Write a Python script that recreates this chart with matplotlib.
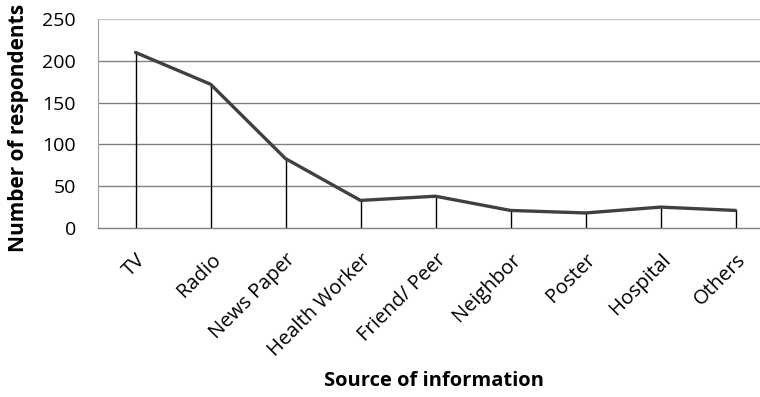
import matplotlib.pyplot as plt
import matplotlib.transforms as mtransforms

categories = ["TV", "Radio", "News Paper", "Health Worker", "Friend/ Peer",
              "Neighbor", "Poster", "Hospital", "Others"]
respondents = [210, 172, 83, 33, 38, 21, 18, 25, 21]
y_ticks = [0, 50, 100, 150, 200, 250]

plt.rcParams["font.family"] = ["Open Sans", "DejaVu Sans"]

fig = plt.figure(figsize=(7.6, 3.97), dpi=100)
ax = fig.add_axes([98 / 760, 1 - 228 / 397, 675 / 760, 209 / 397])

x = list(range(len(categories)))
ax.vlines(x, 0, respondents, color="black", linewidth=1.0, zorder=2)
ax.plot(x, respondents, color="#404040", linewidth=2.4, solid_joinstyle="round",
        solid_capstyle="round", zorder=3)

ax.set_xlim(-0.5, len(categories) - 0.5)
ax.set_ylim(0, 250)
ax.set_yticks(y_ticks)
ax.set_yticklabels([str(v) for v in y_ticks], fontsize=14)
for v in y_ticks[1:]:
    ax.axhline(v, color="#808080" if v < 250 else "#c8c8c8", linewidth=1.0, zorder=1)

# category labels drawn by hand so they can sit below the axis at an offset
ax.set_xticks(x)
ax.set_xticklabels([])
label_offset = mtransforms.ScaledTranslation(0.0, -0.22, fig.dpi_scale_trans)
for pos, name in zip(x, categories):
    ax.text(pos, 0, name, rotation=45, ha="right", va="top", rotation_mode="anchor",
            fontsize=14.5, transform=ax.get_xaxis_transform() + label_offset)

ax.tick_params(axis="x", length=0, pad=0)
ax.tick_params(axis="y", length=0, pad=16)
for side in ["top", "right"]:
    ax.spines[side].set_visible(False)
ax.spines["left"].set_color("#a0a0a0")
ax.spines["bottom"].set_color("#808080")
ax.spines["bottom"].set_linewidth(1.0)

fig.text(19 / 760, 1 - 128 / 397, "Number of respondents", rotation=90,
         ha="center", va="center", fontsize=15, fontweight="bold")
fig.text(434 / 760, 1 - 381 / 397, "Source of information",
         ha="center", va="center", fontsize=14.5, fontweight="bold")

fig.savefig("out.png", dpi=100, facecolor="white")
